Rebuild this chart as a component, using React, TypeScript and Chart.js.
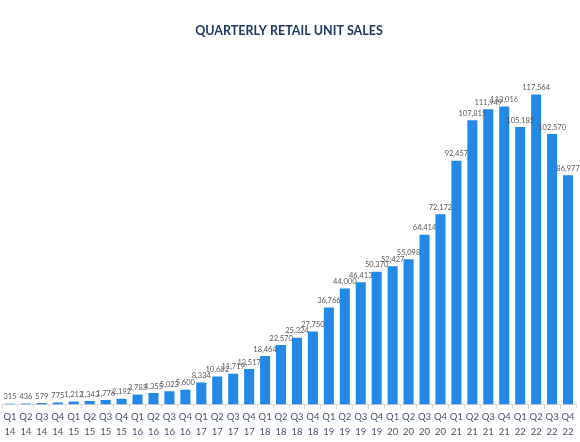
import { useEffect, useRef } from 'react';
import { Chart, registerables } from 'chart.js';

Chart.register(...registerables);

const quarters = ['Q1', 'Q2', 'Q3', 'Q4'];
const years = ['14', '15', '16', '17', '18', '19', '20', '21', '22'];
const labels = years.flatMap((y) => quarters.map((q) => [q, y]));

const unitSales = [
    315, 436, 579, 775,
    1212, 1343, 1776, 2192,
    3783, 4355, 5023, 5600,
    8334, 10682, 11719, 13517,
    18464, 22570, 25324, 27750,
    36766, 44000, 46413, 50370,
    52427, 55098, 64414, 72172,
    92457, 107815, 111949, 113016,
    105185, 117564, 102570, 86977,
];

// draws the value above each bar
const valueLabels = {
    id: 'valueLabels',
    afterDatasetsDraw(chart) {
        const ctx = chart.ctx;
        const meta = chart.getDatasetMeta(0);
        ctx.save();
        ctx.font = '7.5px Lato';
        ctx.fillStyle = '#595959';
        ctx.textAlign = 'center';
        ctx.textBaseline = 'bottom';
        meta.data.forEach((bar, i) => {
            ctx.fillText(unitSales[i].toLocaleString('en-US'), bar.x, bar.y - 3);
        });
        ctx.restore();
    },
};

const App = () => {
    const chartRef = useRef(null);

    useEffect(() => {
        const ctx = chartRef.current.getContext('2d');
        const myChart = new Chart(ctx, {
            type: 'bar',
            data: {
                labels,
                datasets: [
                    {
                        label: 'Retail unit sales',
                        data: unitSales,
                        backgroundColor: '#2389e6',
                        categoryPercentage: 1,
                        barPercentage: 0.63,
                    },
                ],
            },
            options: {
                animation: false,
                responsive: false,
                layout: { padding: { left: 2, right: 4, top: 0, bottom: 1 } },
                plugins: {
                    legend: { display: false },
                    tooltip: { enabled: false },
                    title: {
                        display: true,
                        text: 'QUARTERLY RETAIL UNIT SALES',
                        color: '#1f3864',
                        font: { family: 'Lato', size: 12.5, weight: 'bold' },
                        padding: { top: 23, bottom: 50 },
                    },
                },
                scales: {
                    x: {
                        grid: {
                            display: true,
                            drawOnChartArea: false,
                            drawTicks: true,
                            tickLength: 4,
                            color: '#d9d9d9',
                            offset: true,
                        },
                        border: { display: true, color: '#d9d9d9' },
                        ticks: {
                            color: '#44546a',
                            font: { family: 'Lato', size: 9.5, lineHeight: 1.6 },
                            maxRotation: 0,
                            autoSkip: false,
                            padding: 1,
                        },
                    },
                    y: {
                        display: false,
                        min: 0,
                        max: 120000,
                    },
                },
            },
            plugins: [valueLabels],
        });

        return () => {
            myChart.destroy();
        };
    }, []);

    return (
        <div style={{ position: 'fixed', left: 0, top: 0, width: 580, height: 442, background: '#fff' }}>
            <canvas ref={chartRef} width={580} height={442} />
        </div>
    );
};

export default App;
